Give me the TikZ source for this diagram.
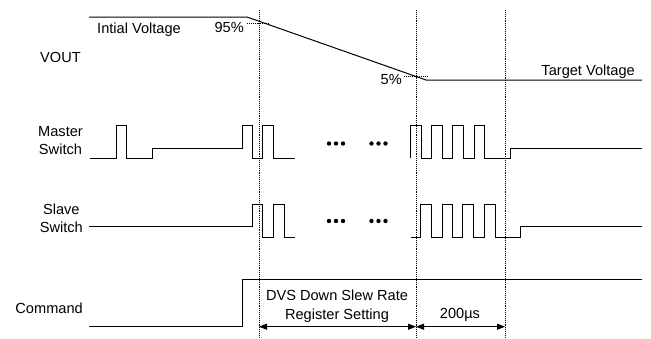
\documentclass[tikz,border=0pt]{standalone}
\usepackage{fontspec}
\setmainfont{Liberation Sans}
\usetikzlibrary{arrows.meta}
\begin{document}
\begin{tikzpicture}[x=1pt,y=-1pt,
  wave/.style={line width=1pt},
  guide/.style={densely dotted, line width=0.9pt},
  lbl/.style={font=\fontsize{14.6}{18}\selectfont, inner sep=0pt},
  dimarrow/.style={line width=1pt, {Triangle[length=8pt,width=6pt]}-{Triangle[length=8pt,width=6pt]}},
  dot/.style={fill=black, circle, inner sep=0pt, minimum size=4.4pt}]
\useasboundingbox (0,0) rectangle (651,338);
% guide lines
\coordinate (g1t) at (259,10); \coordinate (g1b) at (259,338);
\coordinate (g2t) at (416,10); \coordinate (g2b) at (416,338);
\coordinate (g3t) at (505,10); \coordinate (g3b) at (505,338);
\draw[guide] (g1t) -- (g1b);
\draw[guide] (g2t) -- (g2b);
\draw[guide] (g3t) -- (g3b);
% VOUT
\draw[wave] (89,17) -- (247,17) -- (426,80) -- (642,80);
\coordinate (p95a) at (247,23); \coordinate (p95b) at (269,23);
\coordinate (p5a) at (404,76); \coordinate (p5b) at (427,76);
\draw[guide] (p95a) -- (p95b);
\draw[guide] (p5a) -- (p5b);
\node[lbl, anchor=base west] (init) at (97,33.3) {Intial Voltage};
\node[lbl, anchor=base east] (n95) at (244,32.3) {95\%};
\node[lbl, anchor=base east] (n5) at (402,84) {5\%};
\node[lbl, anchor=base east] (tgt) at (635,75) {Target Voltage};
\node[lbl, anchor=base east] (vout) at (81,62) {VOUT};
% Master switch
\node[lbl, align=center, anchor=east] (mst) at (83,141) {Master\\Switch};
\draw[wave] (90,158) -| (116,125) -| (126,158) -| (152,148) -| (242,125) -| (252,158) -| (262.5,125) -| (273,158) -- (295,158);
\draw[wave] (410,158) -- (410,125) -| (421.5,158) -| (431.5,125) -| (442.5,158) -| (452.5,125) -| (463.5,158) -| (474,125) -| (484.5,158) -| (510,148) -- (642,148);
\foreach \x/\n in {329/a,336/b,343/c,371.5/d,378.5/e,385.5/f}{
  \node[dot] (md\n) at (\x,143.5) {};
  \node[dot] (sd\n) at (\x,221) {};
}
% Slave switch
\node[lbl, align=center, anchor=east] (slv) at (83,218) {Slave\\Switch};
\draw[wave] (89,226.7) -| (252.5,204) -| (262.5,237.3) -| (273,204) -| (284,237.3) -- (295,237.3);
\draw[wave] (410.5,237.3) -| (420.7,204) -| (431.7,237.3) -| (442,204) -| (452.5,237.3) -| (462.7,204) -| (473.3,237.3) -| (484,204) -| (495,237.3) -| (520.7,226.7) -- (642,226.7);
% Command
\node[lbl, anchor=base east] (cmd) at (83,313) {Command};
\draw[wave] (89,326) -| (242.3,279.3) -- (642,279.3);
% dimension arrows
\coordinate (a1) at (259,326.7); \coordinate (a2) at (416,326.7); \coordinate (a3) at (505,326.7);
\draw[dimarrow] (a1) -- (a2);
\draw[dimarrow] (a2) -- (a3);
\node[lbl, anchor=base] (dvs1) at (337,300.7) {DVS Down Slew Rate};
\node[lbl, anchor=base] (dvs2) at (337,319.3) {Register Setting};
\node[lbl, anchor=base] (t200) at (460,318.3) {200µs};
\end{tikzpicture}
\end{document}
